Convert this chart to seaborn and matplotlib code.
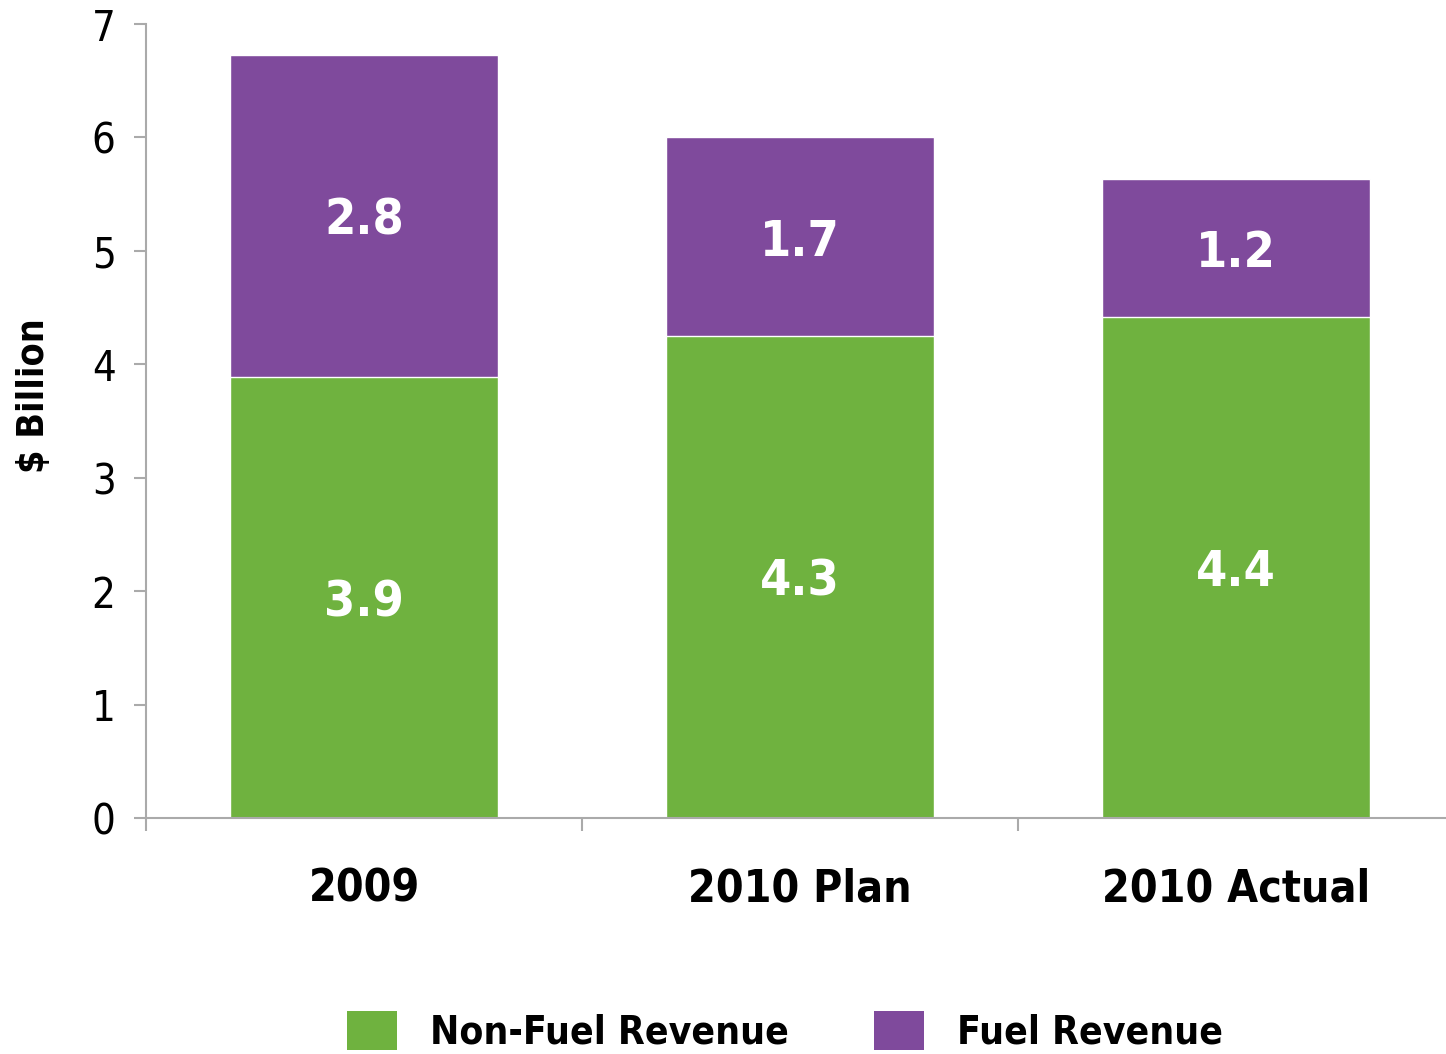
import matplotlib
matplotlib.use("Agg")
import matplotlib.pyplot as plt
import seaborn as sns
import pandas as pd
from matplotlib.patches import Patch

categories = ["2009", "2010 Plan", "2010 Actual"]
non_fuel = [3.89, 4.25, 4.42]
fuel = [2.84, 1.75, 1.21]
non_fuel_labels = ["3.9", "4.3", "4.4"]
fuel_labels = ["2.8", "1.7", "1.2"]
series_names = ["Non-Fuel Revenue", "Fuel Revenue"]
y_ticks = [0, 1, 2, 3, 4, 5, 6, 7]

GREEN = "#6FB23F"
PURPLE = "#7F4A9C"
GREY = "#AAAAAA"

sns.set_theme(style="white")
plt.rcParams["font.family"] = ["DejaVu Sans"]
plt.rcParams["font.stretch"] = "condensed"

df = pd.DataFrame({"cat": categories, "non_fuel": non_fuel, "fuel": fuel})
df["total"] = df["non_fuel"] + df["fuel"]

W, H = 1446, 1054
fig = plt.figure(figsize=(W / 100, H / 100), dpi=100)
ax = fig.add_axes([146 / W, 1 - 818 / H, 1308 / W, 794 / H])

sns.barplot(data=df, x="cat", y="total", color=PURPLE, saturation=1, width=0.615, ax=ax)
sns.barplot(data=df, x="cat", y="non_fuel", color=GREEN, saturation=1, width=0.615, ax=ax)

for i in range(len(categories)):
    ax.text(i, non_fuel[i] / 2, non_fuel_labels[i], ha="center", va="center_baseline",
            color="white", fontsize=36, fontweight="bold")
    ax.text(i, non_fuel[i] + fuel[i] / 2, fuel_labels[i], ha="center", va="center_baseline",
            color="white", fontsize=36, fontweight="bold")

ax.set_xlim(-0.5, 2.5)
ax.set_ylim(0, 7)
ax.set_yticks(y_ticks)
ax.set_yticklabels([str(t) for t in y_ticks], fontsize=30, color="black")
ax.set_xticks(range(len(categories)))
ax.set_xticklabels(categories, fontsize=32, fontweight="bold", color="black")
ax.set_xticks([-0.5, 0.5, 1.5, 2.5], minor=True)
ax.tick_params(axis="x", which="major", bottom=True, length=0, pad=36)
ax.tick_params(axis="x", which="minor", bottom=True, length=9, width=1.5, color=GREY, direction="out")
ax.tick_params(axis="y", which="major", left=True, length=9, width=1.5, color=GREY, direction="out", pad=13)
ax.set_xlabel("")
ax.set_ylabel("$ Billion", fontsize=27, fontweight="bold", color="black")
ax.yaxis.set_label_coords(-(146 - 52) / 1308, (818 - 396) / 794)

for s in ["top", "right"]:
    ax.spines[s].set_visible(False)
for s in ["left", "bottom"]:
    ax.spines[s].set_color(GREY)
    ax.spines[s].set_linewidth(1.5)

fs = 28
em = fs * 100 / 72
handles = [Patch(facecolor=GREEN, edgecolor="none"), Patch(facecolor=PURPLE, edgecolor="none")]
leg = fig.legend(handles, series_names, loc="center left", bbox_to_anchor=(347 / W, 1 - 1031 / H),
                 ncol=2, frameon=False, handlelength=50 / em, handleheight=46 / em,
                 handletextpad=33 / em, columnspacing=2.2, borderpad=0, borderaxespad=0,
                 prop={"size": fs, "weight": "bold", "stretch": "condensed"})
for t in leg.get_texts():
    t.set_color("black")

fig.savefig("out.png", dpi=100)
